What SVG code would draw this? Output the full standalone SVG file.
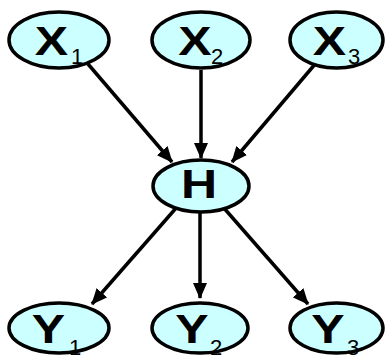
<svg xmlns="http://www.w3.org/2000/svg" width="388" height="359" viewBox="0 0 388 359">
<defs>
<style>
.node ellipse{fill:#ccffff;stroke:#000;stroke-width:3.5}
.lbl{font-family:"Liberation Sans",Arial,sans-serif;font-size:40px;font-weight:bold;fill:#000;text-anchor:middle}
.sub{font-family:"Liberation Sans",Arial,sans-serif;font-size:22px;fill:#000}
.edge{stroke:#000;stroke-width:3.5;fill:none;marker-end:url(#arr)}
</style>
<marker id="arr" markerUnits="userSpaceOnUse" markerWidth="16" markerHeight="14" refX="15" refY="7" orient="auto">
<path d="M0,0 L16,7 L0,14 Z" fill="#000"/>
</marker>
</defs>
<rect width="388" height="359" fill="#fff"/>
<g id="edges">
<line class="edge" x1="88" y1="64" x2="172" y2="162"/>
<line class="edge" x1="201" y1="70" x2="201" y2="158"/>
<line class="edge" x1="316" y1="63" x2="232" y2="162"/>
<line class="edge" x1="177" y1="207" x2="92" y2="304"/>
<line class="edge" x1="200" y1="212" x2="200" y2="298"/>
<line class="edge" x1="223" y1="207" x2="308" y2="304"/>
</g>
<g id="X1" class="node"><ellipse cx="59" cy="40" rx="50" ry="28"/><text class="lbl" transform="translate(51.5,55) scale(1.25,1)">X</text><text class="sub" x="71" y="64">1</text></g>
<g id="X2" class="node"><ellipse cx="201" cy="40" rx="49" ry="28"/><text class="lbl" transform="translate(195,55) scale(1.25,1)">X</text><text class="sub" x="211" y="64">2</text></g>
<g id="X3" class="node"><ellipse cx="336.5" cy="40" rx="46.5" ry="28"/><text class="lbl" transform="translate(329.5,55) scale(1.25,1)">X</text><text class="sub" x="348" y="64">3</text></g>
<g id="H" class="node"><ellipse cx="201" cy="186" rx="48" ry="26"/><text class="lbl" transform="translate(199,198) scale(1.25,1)">H</text></g>
<g id="Y1" class="node"><ellipse cx="59" cy="328" rx="50" ry="25"/><text class="lbl" transform="translate(48.5,343) scale(1.25,1)">Y</text><text class="sub" x="69" y="355">1</text></g>
<g id="Y2" class="node"><ellipse cx="200" cy="328" rx="48" ry="25"/><text class="lbl" transform="translate(192,343) scale(1.25,1)">Y</text><text class="sub" x="210" y="355">2</text></g>
<g id="Y3" class="node"><ellipse cx="336.5" cy="328" rx="46.5" ry="25"/><text class="lbl" transform="translate(328,343) scale(1.25,1)">Y</text><text class="sub" x="347" y="355">3</text></g>
</svg>
